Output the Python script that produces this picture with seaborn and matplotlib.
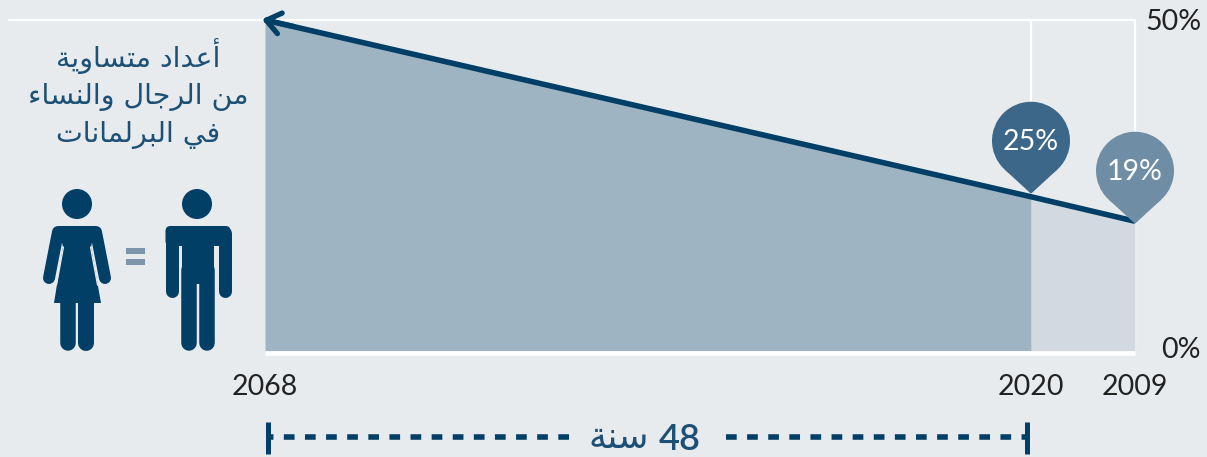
import numpy as np
import pandas as pd
import matplotlib
matplotlib.use("Agg")
import matplotlib.pyplot as plt
import seaborn as sns
from matplotlib.patches import Circle, Polygon, Rectangle, FancyBboxPatch
from matplotlib.transforms import ScaledTranslation

# values
years = [2009, 2020, 2068]
share = [19.6, 23.3, 50]
x_labels = ["2009", "2020", "2068"]
y_ticks = [0, 50]
y_labels = ["0%", "50%"]
pin_years = [2020, 2009]
pin_labels = ["25%", "19%"]
title_lines = ["أعداد متساوية", "من الرجال والنساء", "في البرلمانات"]
span_label = "48 سنة"

BG = "#e8ebee"
NAVY = "#013f67"
TEXT_BLUE = "#1c5075"
DARK_FILL = "#9fb4c3"
LIGHT_FILL = "#d2d9e1"

# matplotlib does not shape arabic, so pick the joined glyphs and reverse by hand
# letter: isolated, final, initial, medial
FORMS = {
    "ء": (0xFE80,), "أ": (0xFE83, 0xFE84), "ا": (0xFE8D, 0xFE8E),
    "ة": (0xFE93, 0xFE94), "د": (0xFEA9, 0xFEAA), "ر": (0xFEAD, 0xFEAE),
    "و": (0xFEED, 0xFEEE),
    "ب": (0xFE8F, 0xFE90, 0xFE91, 0xFE92), "ت": (0xFE95, 0xFE96, 0xFE97, 0xFE98),
    "ج": (0xFE9D, 0xFE9E, 0xFE9F, 0xFEA0), "س": (0xFEB1, 0xFEB2, 0xFEB3, 0xFEB4),
    "ع": (0xFEC9, 0xFECA, 0xFECB, 0xFECC), "ف": (0xFED1, 0xFED2, 0xFED3, 0xFED4),
    "ل": (0xFEDD, 0xFEDE, 0xFEDF, 0xFEE0), "م": (0xFEE1, 0xFEE2, 0xFEE3, 0xFEE4),
    "ن": (0xFEE5, 0xFEE6, 0xFEE7, 0xFEE8), "ي": (0xFEF1, 0xFEF2, 0xFEF3, 0xFEF4),
}


def shape_word(word):
    if word[0] not in FORMS:
        return word
    out = []
    for i, ch in enumerate(word):
        f = FORMS[ch]
        before = i > 0 and len(FORMS[word[i - 1]]) == 4
        after = i < len(word) - 1 and len(f) == 4
        if before and after:
            out.append(chr(f[3]))
        elif after:
            out.append(chr(f[2]))
        elif before:
            out.append(chr(f[1]))
        else:
            out.append(chr(f[0]))
    return "".join(reversed(out))


def rtl(line):
    return " ".join(shape_word(w) for w in reversed(line.split(" ")))


sns.set_theme(style="white", rc={"figure.facecolor": BG, "axes.facecolor": BG,
                                 "lines.scale_dashes": False})
plt.rcParams["font.family"] = ["Lato", "DejaVu Sans"]

W, H = 1207, 457
fig = plt.figure(figsize=(W / 100, H / 100), dpi=100)
ax = fig.add_axes([265 / W, 1 - 351 / H, 870 / W, 331 / H])


# the time axis is not linear in the original: 2009-2020 is stretched less
def time_fwd(x):
    return np.interp(x, [2009, 2020, 2068], [0, 104, 870])


def time_inv(x):
    return np.interp(x, [0, 104, 870], [2009, 2020, 2068])


ax.set_xscale("function", functions=(time_fwd, time_inv))
ax.set_xlim(2068, 2009)
ax.set_ylim(0, 50)

ax.fill_between(years[:2], 0, share[:2], color=LIGHT_FILL, lw=0, zorder=2)
ax.fill_between(years[1:], 0, share[1:], color=DARK_FILL, lw=0, zorder=2)

# white frame, sits behind the fills
ax.vlines(years[:2], 0, 50, color="white", lw=1.6, zorder=1, clip_on=False)
ax.plot([-0.294, 1], [50, 50], transform=ax.get_yaxis_transform(), color="white",
        lw=1.6, clip_on=False, zorder=1)

df = pd.DataFrame({"year": years, "share": share})
sns.lineplot(data=df, x="year", y="share", color=NAVY, lw=4, ax=ax, zorder=4,
             solid_capstyle="butt", clip_on=False)
tip_shift = ax.transData + ScaledTranslation(-3 / 100, 0.7 / 100, fig.dpi_scale_trans)
ax.annotate("", xy=(2068, 50), xytext=(2066, 48.9), xycoords=tip_shift, zorder=4,
            annotation_clip=False,
            arrowprops=dict(arrowstyle="->,head_length=0.5,head_width=0.38", mutation_scale=20,
                            color=NAVY, lw=3.8, shrinkA=0, shrinkB=0))

ax.set_xlabel("")
ax.set_ylabel("")
ax.set_xticks(years, x_labels)
ax.minorticks_off()
ax.yaxis.tick_right()
ax.set_yticks(y_ticks, y_labels)
ax.tick_params(axis="x", length=0, pad=15, labelsize=20.5, labelcolor="#222222")
ax.tick_params(axis="y", length=0, pad=47.5, labelsize=20.5, labelcolor="#222222")
for lab in ax.get_yticklabels():
    lab.set_ha("right")
ax.get_yticklabels()[0].set_transform(
    ax.get_yticklabels()[0].get_transform() + ScaledTranslation(0, 4 / 100, fig.dpi_scale_trans))
for side in ["top", "left", "right"]:
    ax.spines[side].set_visible(False)
ax.spines["bottom"].set_color("white")
ax.spines["bottom"].set_linewidth(3.4)
ax.spines["bottom"].set_position(("outward", 1.7))
ax.spines["bottom"].set_capstyle("butt")

# pixel overlay for the pins, the figures and the span under the axis
ov = fig.add_axes([0, 0, 1, 1], facecolor="none")
ov.set_xlim(0, W)
ov.set_ylim(H, 0)
ov.axis("off")


def to_px(year, value):
    x, y = ax.transData.transform((year, value))
    return x, H - y


def pin(year, label, color, dy):
    tx, ty = to_px(year, df.loc[df.year == year, "share"].iloc[0])
    ty += dy
    r, d = 39, 53
    cy = ty - d
    a = np.arcsin(r / d)
    # tangent points of the two edges running up from the tip
    px = r * np.cos(a)
    py = cy + r * np.sin(a)
    ov.add_patch(Polygon([(tx, ty), (tx - px, py), (tx + px, py)], color=color, lw=0, zorder=5))
    ov.add_patch(Circle((tx, cy), r, color=color, lw=0, zorder=5))
    ov.text(tx, cy + 1, label, color="white", fontsize=20.5, ha="center", va="center", zorder=6)


pin(pin_years[0], pin_labels[0], "#3c6788", -3)
pin(pin_years[1], pin_labels[1], "#6f8ea5", 2.5)

# heading, arabic falls back to DejaVu
for line, base in zip(title_lines, [67, 104, 142]):
    ov.text(138, base, rtl(line), color=TEXT_BLUE, fontsize=20.5, ha="center", va="baseline",
            family="DejaVu Sans")


def limb(x0, y0, x1, y1, width):
    ov.plot([x0, x1], [y0, y1], color=NAVY, lw=width * 0.72, solid_capstyle="round")


# woman
ov.add_patch(Circle((77, 204), 15, color=NAVY, lw=0))
ov.add_patch(Polygon([(58, 226), (96, 226), (91, 247), (101, 303), (54, 303), (63, 247)],
                     color=NAVY, lw=0))
limb(58, 232, 49, 278, 12)
limb(96, 232, 105, 278, 12)
limb(68, 300, 68, 343, 15.5)
limb(85.5, 300, 85.5, 343, 16)
ov.plot([63.5, 56.5], [247, 285], color=BG, lw=0.9)
ov.plot([90.5, 97.5], [247, 285], color=BG, lw=0.9)

# man
ov.add_patch(Circle((197, 204), 15, color=NAVY, lw=0))
ov.add_patch(FancyBboxPatch((169.5, 230), 57, 12, boxstyle="round,pad=4,rounding_size=5", color=NAVY, lw=0))
ov.add_patch(Rectangle((181.5, 240), 32.5, 44, color=NAVY, lw=0))
limb(171.5, 233, 171.5, 291, 13)
limb(224.5, 233, 224.5, 291, 13)
limb(189, 270, 189, 343, 15.5)
limb(206.5, 270, 206.5, 343, 15.5)

# equals sign
ov.add_patch(Rectangle((126, 248), 18.5, 6, color="#7c95aa", lw=0))
ov.add_patch(Rectangle((126, 259), 18.5, 5.5, color="#7c95aa", lw=0))

# 48 years span
for start, end in [(569, 268), (726, 1026)]:
    ov.plot([start, end], [437, 437], color=NAVY, lw=4, linestyle=(0, (7.7, 7.5)), dash_capstyle="butt")
for x in [268, 1027]:
    ov.plot([x, x], [422, 454], color=NAVY, lw=3.6, solid_capstyle="butt")
span_num, span_word = span_label.split(" ")
ov.text(701, 449.5, span_num, color=TEXT_BLUE, fontsize=26, fontweight="semibold", ha="right", va="baseline")
ov.text(649, 448, rtl(span_word), color=TEXT_BLUE, fontsize=26, ha="right", va="baseline",
        family="DejaVu Sans")

fig.savefig("out.png", dpi=100, facecolor=BG)
